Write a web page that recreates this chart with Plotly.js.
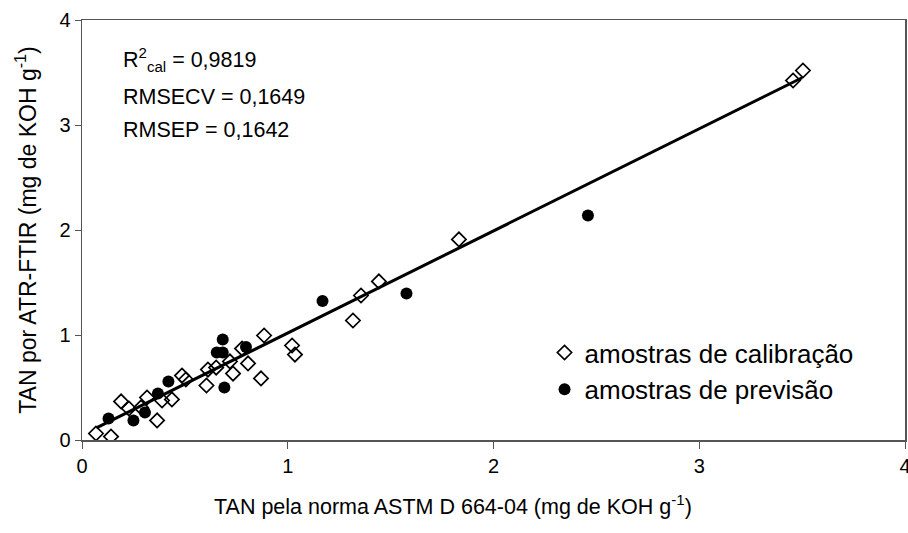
<!DOCTYPE html>
<html>
<head>
<meta charset="utf-8">
<script src="https://cdn.plot.ly/plotly-3.0.1.min.js"></script>
<style>html,body{margin:0;padding:0;background:#fff;}#chart{width:908px;height:533px;}</style>
</head>
<body>
<div id="chart"></div>
<script>
// Calibration samples (open diamonds)
const calX = [0.068, 0.141, 0.190, 0.228, 0.287, 0.316, 0.365, 0.389, 0.437, 0.486, 0.505, 0.612, 0.605, 0.652, 0.719, 0.734, 0.778, 0.807, 0.870, 0.885, 1.021, 1.035, 1.317, 1.356, 1.443, 1.832, 3.456, 3.504];
const calY = [0.062, 0.033, 0.367, 0.300, 0.310, 0.405, 0.186, 0.376, 0.386, 0.614, 0.576, 0.671, 0.519, 0.690, 0.748, 0.633, 0.871, 0.729, 0.586, 0.995, 0.900, 0.814, 1.138, 1.376, 1.510, 1.910, 3.424, 3.519];
// Prediction samples (filled circles)
const preX = [0.129, 0.250, 0.306, 0.369, 0.420, 0.684, 0.655, 0.684, 0.692, 0.797, 1.169, 1.577, 2.459];
const preY = [0.205, 0.186, 0.262, 0.443, 0.557, 0.957, 0.833, 0.833, 0.500, 0.886, 1.324, 1.395, 2.138];
// Regression line end points
const fitX = [0.07, 3.50];
const fitY = [0.115, 3.45];
const statLines = ["R<sup>2</sup><sub>cal</sub> = 0,9819", "RMSECV = 0,1649", "RMSEP = 0,1642"];
const legendNames = ["amostras de calibração", "amostras de previsão"];
const xTitle = "TAN pela norma ASTM D 664-04 (mg de KOH g<sup>-1</sup>)";
const yTitle = "TAN por ATR-FTIR (mg de KOH g<sup>-1</sup>)";

const FONT = "Liberation Sans, Arial, sans-serif";
const traces = [
  {x: fitX, y: fitY, mode: "lines", line: {color: "#000", width: 3}, showlegend: false, hoverinfo: "skip"},
  {x: calX, y: calY, mode: "markers", name: legendNames[0], legendgroup: "a",
   marker: {symbol: "diamond-open", size: 11, color: "#000", line: {width: 1.7, color: "#000"}}},
  {x: preX, y: preY, mode: "markers", name: legendNames[1], legendgroup: "b",
   marker: {symbol: "circle", size: 12, color: "#000"}}
];
const statY = [3.62, 3.27, 2.95];
const annotations = statLines.map((t, i) => ({
  x: 0.19, y: statY[i], xref: "x", yref: "y", text: t, showarrow: false,
  xanchor: "left", yanchor: "middle", font: {family: FONT, size: 21.5, color: "#000"}
}));
annotations.push({
  x: 0.451, y: -0.155, xref: "paper", yref: "paper", text: xTitle, showarrow: false,
  xanchor: "center", yanchor: "middle", font: {family: FONT, size: 21.5, color: "#000"}
});
const layout = {
  width: 908, height: 533,
  margin: {l: 82, r: 3, t: 20, b: 93},
  paper_bgcolor: "#fff", plot_bgcolor: "#fff",
  font: {family: FONT, color: "#000"},
  xaxis: {range: [0, 4], dtick: 1, tick0: 0, showgrid: false, zeroline: false,
    showline: true, linecolor: "#555", linewidth: 1.5, mirror: true, ticklabeloverflow: "allow",
    ticks: "outside", ticklen: 7, tickcolor: "#555", tickfont: {size: 20, family: FONT}},
  yaxis: {range: [0, 4], dtick: 1, tick0: 0, showgrid: false, zeroline: false,
    showline: true, linecolor: "#555", linewidth: 1.5, mirror: true, ticklabeloverflow: "allow",
    ticks: "outside", ticklen: 6, tickcolor: "#555", tickfont: {size: 20, family: FONT},
    title: {text: yTitle, font: {size: 23, family: FONT}, standoff: 16}},
  showlegend: true,
  legend: {x: 0.562, y: 0.264, xanchor: "left", yanchor: "top", bgcolor: "rgba(0,0,0,0)",
    font: {size: 26, family: FONT}, traceorder: "grouped", tracegroupgap: 0, itemwidth: 30},
  annotations: annotations
};
Plotly.newPlot("chart", traces, layout, {staticPlot: true});
</script>
</body>
</html>
